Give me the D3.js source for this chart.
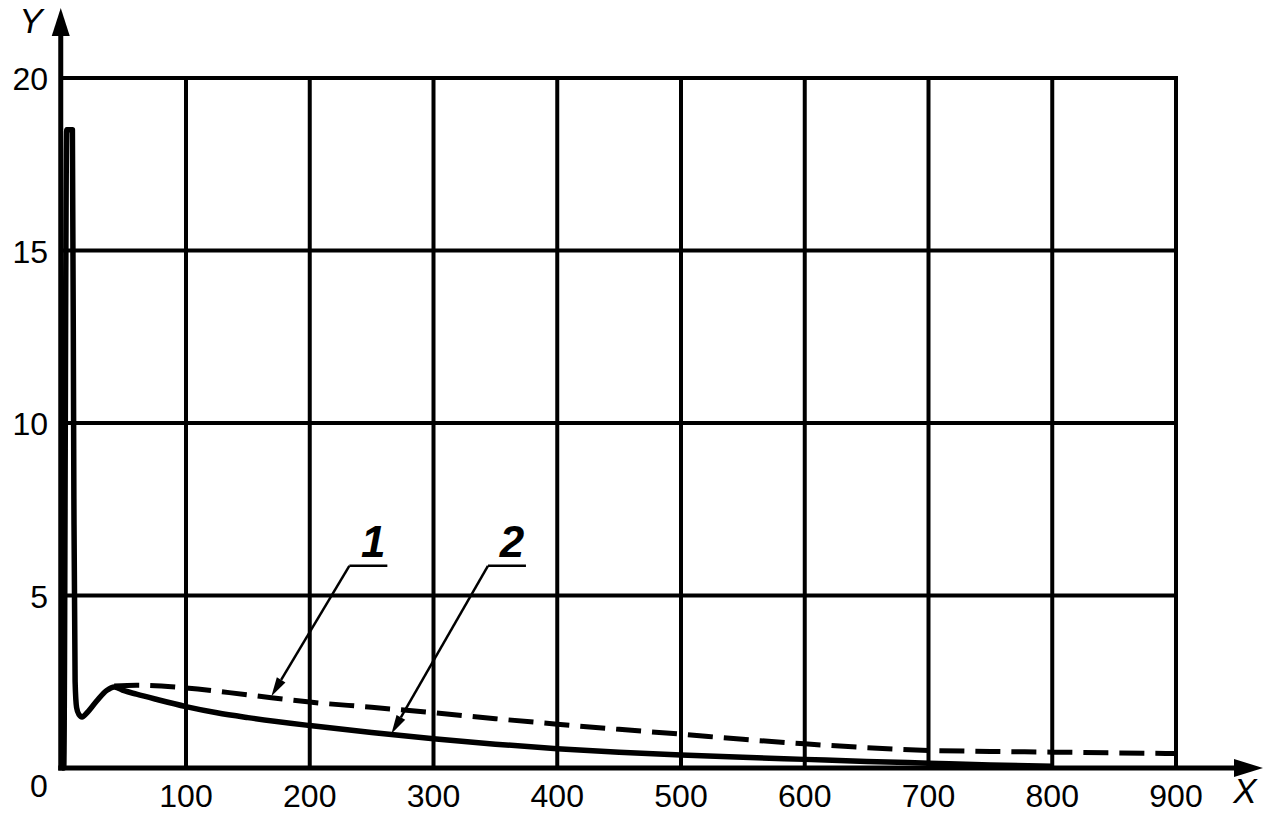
<!DOCTYPE html>
<html><head><meta charset="utf-8">
<script src="https://cdn.jsdelivr.net/npm/d3@7"></script>
<style>html,body{margin:0;padding:0;background:#fff;}svg{display:block;}</style>
</head><body>
<script>
// ---- data ----
const xTicks = [100, 200, 300, 400, 500, 600, 700, 800, 900];
const yTicks = [5, 10, 15, 20];
const xTickLabels = ["100","200","300","400","500","600","700","800","900"];
const yTickLabels = ["5","10","15","20"];
// curve 2 (solid)
const solidX = [0, 1.2, 3.6, 8.2, 9.4, 10.4, 11.6, 13.5, 16, 20, 28, 36, 42, 50, 60, 75, 100, 125, 150, 200, 250, 300, 350, 400, 450, 500, 550, 600, 650, 700, 750, 800];
const solidY = [0, 0, 18.5, 18.5, 7.8, 2.5, 1.75, 1.55, 1.48, 1.6, 1.95, 2.25, 2.35, 2.24, 2.14, 2.0, 1.78, 1.6, 1.46, 1.23, 1.03, 0.85, 0.69, 0.56, 0.46, 0.38, 0.31, 0.25, 0.19, 0.14, 0.09, 0.05];
// curve 1 (dashed)
const dashX = [42, 60, 100, 150, 200, 250, 300, 350, 400, 450, 500, 550, 600, 650, 700, 750, 800, 850, 900];
const dashY = [2.38, 2.4, 2.32, 2.12, 1.91, 1.76, 1.6, 1.43, 1.27, 1.12, 0.98, 0.83, 0.7, 0.59, 0.51, 0.48, 0.46, 0.44, 0.42];
// annotation labels (data units): label anchor, arrow tip
const annoNames = ["1", "2"];
const annoAnchorX = [232, 344];
const annoAnchorY = [5.86, 5.86];
const annoTipX = [169, 266];
const annoTipY = [2.08, 0.99];

// ---- layout ----
const W = 1271, H = 814;
const x = d3.scaleLinear().domain([0, 900]).range([62.25, 1176]);
const y = d3.scaleLinear().domain([0, 20]).range([768, 78]);
const FONT = "'Liberation Sans', Arial, Helvetica, sans-serif";

const svg = d3.select("body").append("svg").attr("width", W).attr("height", H);

// grid
const g = svg.append("g").attr("stroke", "#000").attr("stroke-width", 4);
g.selectAll("line.v").data(xTicks).join("line")
  .attr("x1", d => x(d)).attr("x2", d => x(d))
  .attr("y1", y(0)).attr("y2", y(20) - 2);
g.selectAll("line.h").data(yTicks).join("line")
  .attr("y1", d => y(d)).attr("y2", d => y(d))
  .attr("x1", x(0)).attr("x2", x(900) + 2);

// axes
const ax = svg.append("g");
ax.append("line").attr("x1", x(0) - 4).attr("x2", 1240).attr("y1", y(0)).attr("y2", y(0))
  .attr("stroke", "#000").attr("stroke-width", 5);
ax.append("line").attr("x1", x(0) - 1.5).attr("x2", x(0) - 1.5).attr("y1", y(0) + 2.5).attr("y2", 30)
  .attr("stroke", "#000").attr("stroke-width", 5);
ax.append("path").attr("d", `M1263,${y(0)} L1234,${y(0) - 9} L1234,${y(0) + 9} Z`).attr("fill", "#000");
ax.append("path").attr("d", `M${x(0) - 1.5},8 L${x(0) - 10.5},36 L${x(0) + 7.5},36 Z`).attr("fill", "#000");

// tick labels
const tl = svg.append("g").attr("font-family", FONT).attr("font-size", 32).attr("fill", "#000");
tl.selectAll("text.x").data(xTicks).join("text")
  .attr("x", d => x(d)).attr("y", 807).attr("text-anchor", "middle")
  .text((d, i) => xTickLabels[i]);
tl.selectAll("text.y").data(yTicks).join("text")
  .attr("x", 48).attr("y", d => y(d) + 12).attr("text-anchor", "end")
  .text((d, i) => yTickLabels[i]);
tl.append("text").attr("x", 39).attr("y", 797).attr("text-anchor", "middle").text("0");

// axis names
svg.append("text").attr("x", 31).attr("y", 33).attr("text-anchor", "middle")
  .attr("font-family", FONT).attr("font-size", 35).attr("font-style", "italic").text("Y");
svg.append("text").attr("x", 1245).attr("y", 803).attr("text-anchor", "middle")
  .attr("font-family", FONT).attr("font-size", 35).attr("font-style", "italic").text("X");

// curves
const line = d3.line().x(d => x(d[0])).y(d => y(d[1])).curve(d3.curveMonotoneX);
const solid = solidX.map((v, i) => [v, solidY[i]]);
const dashed = dashX.map((v, i) => [v, dashY[i]]);
svg.append("path").attr("d", line(dashed)).attr("fill", "none").attr("stroke", "#000")
  .attr("stroke-width", 5).attr("stroke-dasharray", "25,11");
svg.append("path").attr("d", line(solid)).attr("fill", "none").attr("stroke", "#000")
  .attr("stroke-width", 5.5).attr("stroke-linejoin", "round").attr("stroke-linecap", "butt");

// annotations
const an = svg.append("g");
annoNames.forEach((name, i) => {
  const ax0 = x(annoAnchorX[i]), ay0 = y(annoAnchorY[i]);
  const tx = x(annoTipX[i]), ty = y(annoTipY[i]);
  an.append("line").attr("x1", ax0).attr("x2", ax0 + 38).attr("y1", ay0).attr("y2", ay0)
    .attr("stroke", "#000").attr("stroke-width", 2.5);
  const ang = Math.atan2(ty - ay0, tx - ax0);
  const L = 19, hw = 5;
  const bx = tx - L * Math.cos(ang), by = ty - L * Math.sin(ang);
  an.append("line").attr("x1", ax0).attr("y1", ay0).attr("x2", bx).attr("y2", by)
    .attr("stroke", "#000").attr("stroke-width", 2.5);
  const px = -Math.sin(ang) * hw, py = Math.cos(ang) * hw;
  an.append("path").attr("d", `M${tx},${ty} L${bx + px},${by + py} L${bx - px},${by - py} Z`).attr("fill", "#000");
  an.append("text").attr("x", ax0 + 24).attr("y", ay0 - 9).attr("text-anchor", "middle")
    .attr("font-family", FONT).attr("font-size", 44).attr("font-style", "italic").attr("font-weight", "bold")
    .text(name);
});
</script>
</body></html>
